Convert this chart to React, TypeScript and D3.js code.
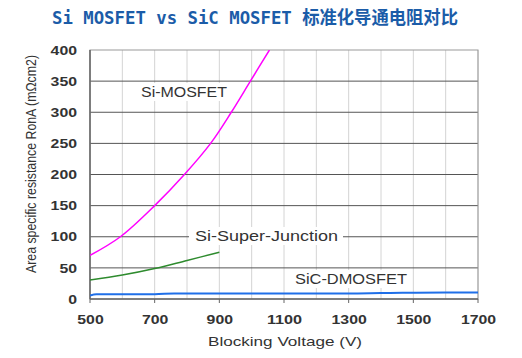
import React from "react";
import * as d3 from "d3";

const xTicks = [500, 700, 900, 1100, 1300, 1500, 1700];
const xMinor = [600, 800, 1000, 1200, 1400, 1600];
const yTicks = [0, 50, 100, 150, 200, 250, 300, 350, 400];

const siMosV = [500, 594, 700, 792, 873, 937, 996, 1055];
const siMosR = [70, 100, 150, 200, 250, 300, 350, 400];

const sjV = [500, 600, 700, 800, 900];
const sjR = [30.5, 38.5, 49, 62, 75];

const sicV = [500, 520, 700, 760, 1300, 1400, 1600, 1700];
const sicR = [5.5, 7.5, 7.5, 9, 9, 9.5, 10.5, 10.5];

const W = 522, H = 358;
const L = 90, R = 478, T = 50, B = 299;

export default function App() {
  const x = d3.scaleLinear().domain([500, 1700]).range([L, R]);
  const y = d3.scaleLinear().domain([0, 400]).range([B, T]);
  const line = d3.line<[number, number]>().x(d => x(d[0])).y(d => y(d[1])).curve(d3.curveMonotoneX);
  const smooth = d3.line<[number, number]>().x(d => x(d[0])).y(d => y(d[1])).curve(d3.curveCatmullRom.alpha(0.5));
  const mk = (v: number[], r: number[]) => v.map((vv, i) => [vv, r[i]] as [number, number]);
  const txt = "#333";
  const font = "'Liberation Sans', Arial, sans-serif";
  const tl = (v: number) => String(v).length * 8.8;
  return (
    <svg width={W} height={H} style={{ position: "absolute", left: 0, top: 0, background: "#fff" }}>
      <defs>
        <clipPath id="plot"><rect x={L} y={T} width={R - L} height={B - T} /></clipPath>
      </defs>
      <text x={52} y={24} fill="#1b5ca8" fontWeight="bold" textLength={406} lengthAdjust="spacingAndGlyphs"
        fontFamily="'DejaVu Sans Mono', 'Noto Sans CJK SC', monospace" fontSize={18}>
        Si MOSFET vs SiC MOSFET 标准化导通电阻对比
      </text>
      {xMinor.concat(xTicks).map(v => (
        <line key={"vx" + v} x1={x(v)} x2={x(v)} y1={T} y2={B} stroke="#d4d4d4" strokeWidth={1} />
      ))}
      {yTicks.slice(1, -1).map(v => (
        <line key={"hy" + v} x1={L} x2={R} y1={y(v)} y2={y(v)} stroke="#555" strokeWidth={1} />
      ))}
      <rect x={L} y={T} width={R - L} height={B - T} fill="none" stroke="#999" strokeWidth={1} />
      <line x1={L} x2={L} y1={T} y2={B} stroke="#666" strokeWidth={1.5} />
      <line x1={L} x2={R} y1={B} y2={B} stroke="#666" strokeWidth={1.5} />
      {xTicks.map(v => (
        <line key={"tx" + v} x1={x(v)} x2={x(v)} y1={B} y2={B + 4} stroke="#666" strokeWidth={1} />
      ))}
      <g clipPath="url(#plot)">
        <path d={line(mk(sicV, sicR)) || ""} fill="none" stroke="#1f6fe8" strokeWidth={2} />
        <path d={smooth(mk(sjV, sjR)) || ""} fill="none" stroke="#2e8b2e" strokeWidth={1.5} />
        <path d={smooth(mk(siMosV, siMosR)) || ""} fill="none" stroke="#ff00ff" strokeWidth={1.5} />
      </g>
      <rect x={137} y={83} width={94} height={18} fill="#fff" />
      <text x={141} y={97} fontFamily={font} fontSize={14} fill={txt} textLength={86}
        lengthAdjust="spacingAndGlyphs">Si-MOSFET</text>
      <rect x={189} y={227} width={154} height={18} fill="#fff" />
      <text x={195} y={241} fontFamily={font} fontSize={14} fill={txt} textLength={143}
        lengthAdjust="spacingAndGlyphs">Si-Super-Junction</text>
      <rect x={290} y={270} width={122} height={18} fill="#fff" />
      <text x={295} y={284} fontFamily={font} fontSize={14} fill={txt} textLength={112}
        lengthAdjust="spacingAndGlyphs">SiC-DMOSFET</text>
      {yTicks.map(v => (
        <text key={"yl" + v} x={77 - tl(v)} y={y(v)} dy="0.36em" fontFamily={font}
          fontWeight="bold" fontSize={13} fill={txt} textLength={tl(v)}
          lengthAdjust="spacingAndGlyphs">{v}</text>
      ))}
      {xTicks.map(v => (
        <text key={"xl" + v} x={x(v) + 0.5 - tl(v) / 2} y={319} dy="0.36em" fontFamily={font}
          fontWeight="bold" fontSize={13} fill={txt} textLength={tl(v)}
          lengthAdjust="spacingAndGlyphs">{v}</text>
      ))}
      <text x={208} y={341} dy="0.36em" fontFamily={font} fontSize={13}
        fill={txt} textLength={154} lengthAdjust="spacingAndGlyphs">Blocking Voltage (V)</text>
      <text transform={`translate(31,273) rotate(-90)`} dy="0.36em"
        fontFamily={font} fontSize={14.5} fill={txt} textLength={218}
        lengthAdjust="spacingAndGlyphs">Area specific resistance RonA (mΩcm2)</text>
    </svg>
  );
}
